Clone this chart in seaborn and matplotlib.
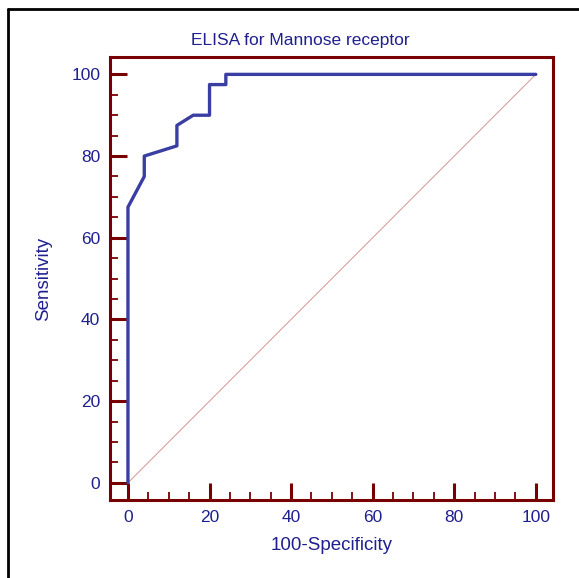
import matplotlib
matplotlib.use("Agg")
import matplotlib.pyplot as plt
from matplotlib.lines import Line2D
from matplotlib.ticker import MultipleLocator
import seaborn as sns
import pandas as pd

# ROC points
fpr = [0, 0, 4, 4, 12, 12, 16, 20, 20, 24, 24, 100]
tpr = [0, 67.5, 75, 80, 82.5, 87.5, 90, 90, 97.5, 97.5, 100, 100]
ref_x = [0, 100]
ref_y = [0, 100]

sns.set_style("white")
plt.rcParams['font.family'] = ['Liberation Sans', 'DejaVu Sans']

navy = "#1f1f8f"
dark_red = "#780000"

fig = plt.figure(figsize=(5.79, 5.78), dpi=100)
ax = fig.add_axes([0.19, 0.135, 0.765, 0.766])

roc = pd.DataFrame({"x": fpr, "y": tpr})
diag = pd.DataFrame({"x": ref_x, "y": ref_y})

sns.lineplot(data=diag, x="x", y="y", ax=ax, color="#d9a0a0", linewidth=0.8,
             sort=False, estimator=None)
sns.lineplot(data=roc, x="x", y="y", ax=ax, color="#3a3ea2", linewidth=2.4,
             sort=False, estimator=None)

ax.set_xlim(-4.4, 104.2)
ax.set_ylim(-4.2, 104.2)
ax.xaxis.set_major_locator(MultipleLocator(20))
ax.xaxis.set_minor_locator(MultipleLocator(5))
ax.yaxis.set_major_locator(MultipleLocator(20))
ax.yaxis.set_minor_locator(MultipleLocator(5))

for s in ax.spines.values():
    s.set_color(dark_red)
    s.set_linewidth(2.2)

ax.tick_params(which="major", direction="in", length=12, width=2.2,
               color=dark_red, labelcolor=navy, labelsize=12.5, pad=7)
ax.tick_params(which="minor", direction="in", length=6, width=1.3,
               color=dark_red)
ax.tick_params(axis="x", which="both", bottom=True, top=False)
ax.tick_params(axis="y", which="both", left=True, right=False)

ax.set_title("ELISA for Mannose receptor", color=navy, fontsize=12.5, pad=9,
             x=(300 - 110) / 443)
ax.set_xlabel("100-Specificity", color=navy, fontsize=13.5, labelpad=9)
ax.set_ylabel("Sensitivity", color=navy, fontsize=13.5, labelpad=14)

# black frame on left and top edges
fig.add_artist(Line2D([0.0145, 0.0145], [0.0, 0.985], transform=fig.transFigure,
                      color="black", linewidth=2))
fig.add_artist(Line2D([0.0145, 1.0], [0.985, 0.985], transform=fig.transFigure,
                      color="black", linewidth=2))

fig.savefig("out.png", dpi=100)
